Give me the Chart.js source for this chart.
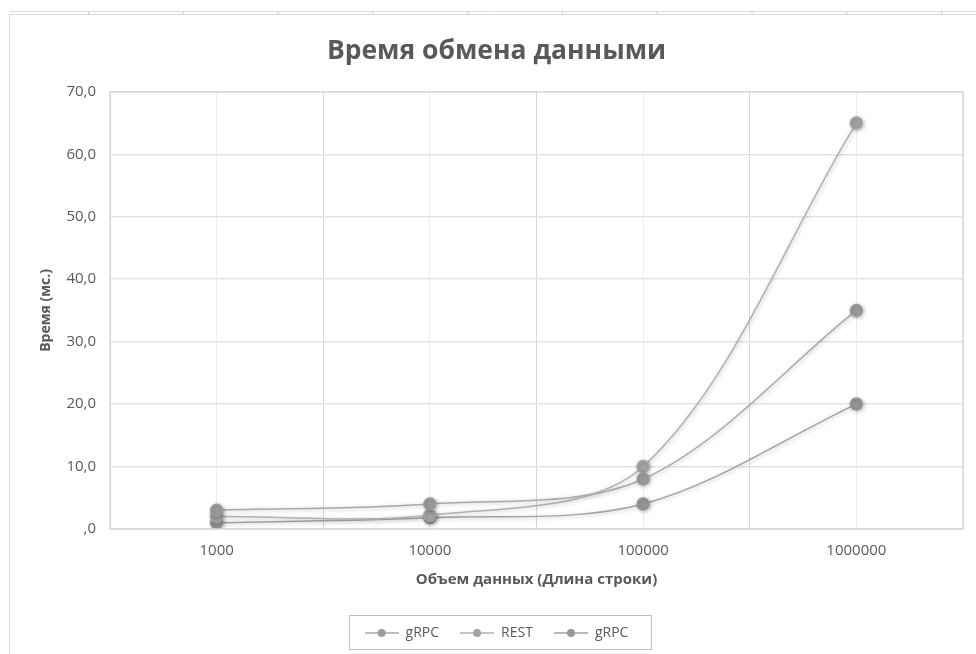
<!DOCTYPE html>
<html>
<head>
<meta charset="utf-8">
<script src="https://cdn.jsdelivr.net/npm/chart.js@4/dist/chart.umd.min.js"></script>
<style>
  html, body { margin: 0; padding: 0; background: #ffffff; }
  #wrap { width: 976px; height: 654px; position: relative; }
</style>
</head>
<body>
<div id="wrap"><canvas id="c" width="976" height="654"></canvas></div>
<script>
const categories = ['1000', '10000', '100000', '1000000'];
const seriesNames = ['gRPC', 'REST', 'gRPC'];
const series1 = [3, 4, 8, 35];
const series2 = [2, 2.2, 10, 65];
const series3 = [1, 1.8, 4, 20];
const yTicks = [0, 10, 20, 30, 40, 50, 60, 70];

const chartTitle = 'Время обмена данными';
const yTitle = 'Время (мс.)';
const xTitle = 'Объем данных (Длина строки)';

const FONT = "'Open Sans', 'DejaVu Sans', sans-serif";
const lineColors = ['#a8a8a8', '#b0b0b0', '#a2a2a2'];
const pointColors = ['#9c9c9c', '#a4a4a4', '#979797'];

function legendIcon(lineColor, dotColor) {
  const cv = document.createElement('canvas');
  cv.width = 34; cv.height = 10;
  const g = cv.getContext('2d');
  g.strokeStyle = lineColor; g.lineWidth = 1.5;
  g.beginPath(); g.moveTo(0, 5); g.lineTo(34, 5); g.stroke();
  g.fillStyle = dotColor;
  g.beginPath(); g.arc(17, 5, 4, 0, Math.PI * 2); g.fill();
  return cv;
}

const allSeries = [series1, series2, series3];
const datasets = allSeries.map((vals, k) => ({
  label: seriesNames[k],
  data: vals.map((v, i) => ({ x: i, y: v })),
  borderColor: lineColors[k],
  backgroundColor: pointColors[k],
  pointBackgroundColor: pointColors[k],
  pointBorderColor: pointColors[k],
  pointRadius: 6,
  pointHoverRadius: 6,
  borderWidth: 1.5,
  tension: 0.33,
  fill: false,
  pointStyle: 'circle'
}));

const shadowPlugin = {
  id: 'shadow',
  beforeDatasetsDraw(chart) {
    const ctx = chart.ctx;
    ctx.save();
    ctx.shadowColor = 'rgba(0,0,0,0.25)';
    ctx.shadowBlur = 4;
    ctx.shadowOffsetX = 1;
    ctx.shadowOffsetY = 1;
  },
  afterDatasetsDraw(chart) {
    chart.ctx.restore();
  }
};

const framePlugin = {
  id: 'frame',
  beforeDraw(chart) {
    const ctx = chart.ctx;
    ctx.save();
    ctx.strokeStyle = '#dcdcdc';
    ctx.lineWidth = 1;
    ctx.beginPath();
    ctx.moveTo(9, 11.5); ctx.lineTo(976, 11.5);
    ctx.moveTo(9, 14.5); ctx.lineTo(976, 14.5);
    ctx.moveTo(9.5, 14); ctx.lineTo(9.5, 654);
    ctx.stroke();
    ctx.strokeStyle = '#cfcfcf';
    ctx.beginPath();
    for (let x = 88.5; x < 976; x += 94.8) { ctx.moveTo(x, 11); ctx.lineTo(x, 15); }
    ctx.stroke();
    ctx.restore();
  },
  afterDraw(chart) {
    const ctx = chart.ctx;
    const a = chart.chartArea;
    ctx.save();
    ctx.strokeStyle = '#d9d9d9';
    ctx.lineWidth = 1.5;
    ctx.strokeRect(a.left, a.top, a.right - a.left, a.bottom - a.top);
    const hb = chart.legend.legendHitBoxes;
    if (hb && hb.length) {
      let l = Infinity, r = -Infinity, cy = 0;
      hb.forEach(b => { l = Math.min(l, b.left); r = Math.max(r, b.left + b.width); cy += b.top + b.height / 2; });
      cy /= hb.length;
      ctx.strokeStyle = '#bfbfbf';
      ctx.lineWidth = 1;
      ctx.strokeRect(Math.round(l - 16) + 0.5, Math.round(cy - 18) + 0.5, Math.round(r - l + 38), 34);
    }
    ctx.restore();
  }
};

new Chart(document.getElementById('c'), {
  type: 'line',
  data: { datasets },
  plugins: [shadowPlugin, framePlugin],
  options: {
    responsive: false,
    animation: false,
    events: [],
    layout: { padding: { left: 30, right: 13, top: 0, bottom: 4 } },
    plugins: {
      title: {
        display: true,
        text: chartTitle,
        color: '#595959',
        font: { family: FONT, size: 26.5, weight: 'bold' },
        padding: { top: 36, bottom: 24 }
      },
      legend: {
        position: 'bottom',
        labels: {
          usePointStyle: true,
          generateLabels(chart) {
            return chart.data.datasets.map((ds, k) => ({
              text: ds.label,
              fillStyle: pointColors[k],
              strokeStyle: lineColors[k],
              fontColor: '#595959',
              pointStyle: legendIcon(lineColors[k], pointColors[k]),
              datasetIndex: k,
              hidden: false,
              lineWidth: 0
            }));
          },
          pointStyleWidth: 34,
          boxHeight: 10,
          color: '#595959',
          font: { family: FONT, size: 14 },
          padding: 21
        }
      },
      tooltip: { enabled: false }
    },
    scales: {
      x: {
        type: 'linear',
        min: -0.5,
        max: 3.5,
        afterBuildTicks(scale) {
          const t = [];
          for (let v = -0.5; v <= 3.5001; v += 0.5) t.push({ value: Math.round(v * 2) / 2 });
          scale.ticks = t;
        },
        afterFit(scale) { scale.height = 76; },
        ticks: {
          autoSkip: false,
          maxRotation: 0,
          color: '#595959',
          font: { family: FONT, size: 15 },
          padding: 13,
          callback(v) { return Number.isInteger(v) ? categories[v] : ''; }
        },
        grid: {
          color(ctx) {
            const v = ctx.tick ? ctx.tick.value : 0;
            return Number.isInteger(v) ? '#ececec' : '#d6d6d6';
          },
          lineWidth: 1,
          drawTicks: false
        },
        border: { display: false },
        title: {
          display: true,
          text: xTitle,
          color: '#595959',
          font: { family: FONT, size: 15, weight: 'bold' },
          padding: { top: 11, bottom: 16 }
        }
      },
      y: {
        min: 0,
        max: 70,
        afterBuildTicks(scale) { scale.ticks = yTicks.map(v => ({ value: v })); },
        afterFit(scale) { scale.width = 80; },
        ticks: {
          color: '#595959',
          font: { family: FONT, size: 15 },
          padding: 14,
          callback(v) { return v === 0 ? ',0' : v.toFixed(1).replace('.', ','); }
        },
        grid: { color: '#e3e3e3', lineWidth: 1.5, drawTicks: false },
        border: { display: false },
        title: {
          display: true,
          text: yTitle,
          color: '#595959',
          font: { family: FONT, size: 14, weight: 'bold' },
          padding: { top: 8, bottom: 0 }
        }
      }
    }
  }
});
</script>
</body>
</html>
